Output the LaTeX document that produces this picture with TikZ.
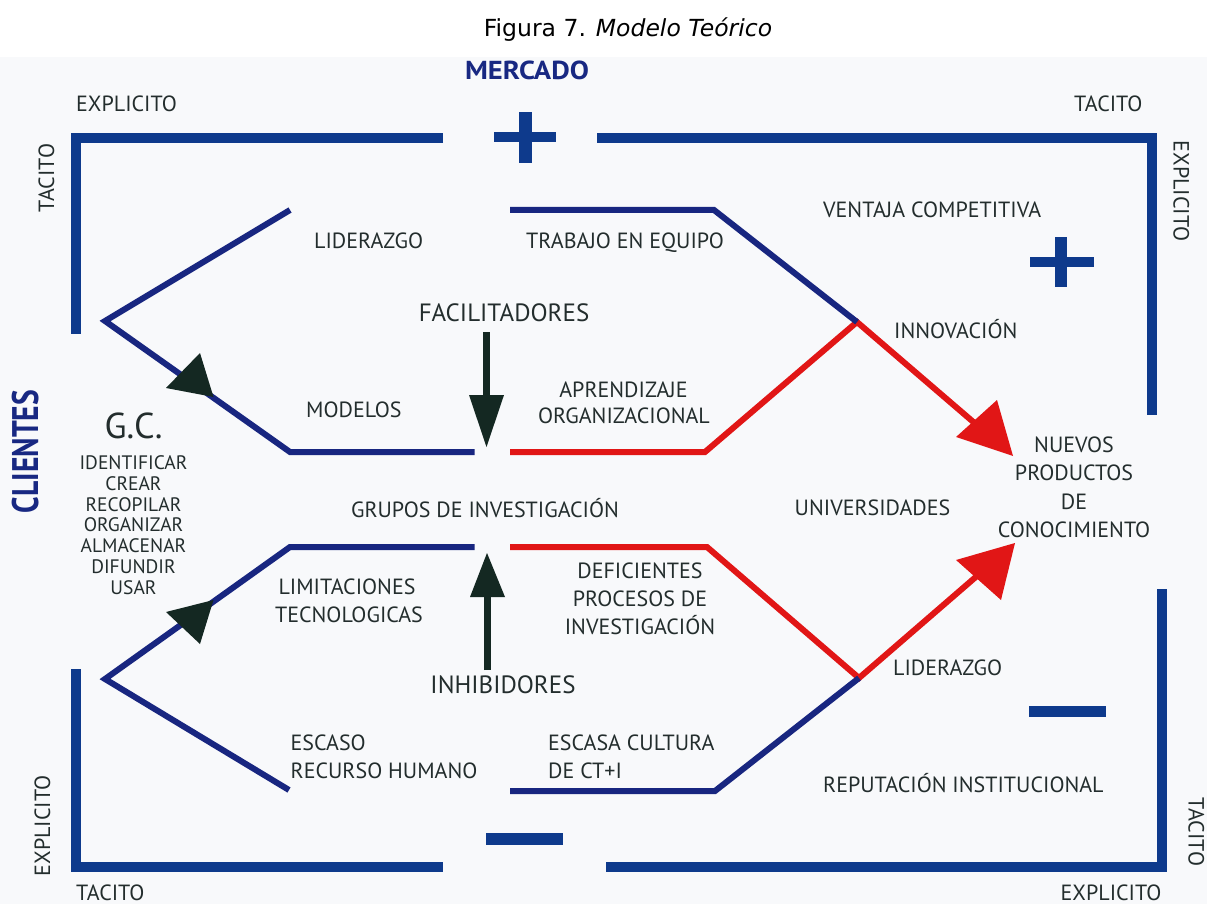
\documentclass[tikz,border=0pt]{standalone}
\usepackage{fontspec}
\setmainfont{PT Sans}
\newfontfamily\titlefont{DejaVu Sans}
\usepackage{graphicx}
\definecolor{brk}{RGB}{14,58,140}
\definecolor{chb}{RGB}{24,38,128}
\definecolor{rd}{RGB}{225,22,22}
\definecolor{dk}{RGB}{20,40,34}
\definecolor{txt}{RGB}{35,45,45}
\definecolor{bgt}{RGB}{248,249,251}
\definecolor{hblue}{RGB}{24,40,130}
\tikzset{
  lbl/.style={text=txt, font=\fontsize{22}{26}\selectfont, inner sep=0pt, anchor=base west},
  lblc/.style={lbl, anchor=base},
  bigl/.style={text=txt, font=\fontsize{25}{30}\selectfont, inner sep=0pt, anchor=base},
  gcl/.style={text=txt, font=\fontsize{19.5}{21}\selectfont, inner sep=0pt, anchor=base},
  bracket/.style={draw=brk, line width=10pt, line join=miter},
  chev/.style={draw=chb, line width=6pt, line join=miter},
  redl/.style={draw=rd, line width=6pt, line join=miter},
  bar/.style={fill=brk},
  headdk/.style={fill=dk},
  headrd/.style={fill=rd},
  shaft/.style={draw=dk, line width=7pt}
}
\begin{document}
\begin{tikzpicture}[x=1pt,y=-1pt]
\useasboundingbox (0,0) rectangle (1207,904);
\fill[white] (0,0) rectangle (1207,904);
\fill[bgt] (0,57) rectangle (1207,904);

% title
\node[font=\titlefont\fontsize{23.5}{27}\selectfont, inner sep=0pt, anchor=base] (title) at (628,36.5) {Figura 7. \textit{Modelo Teórico}};

% coordinates
\coordinate (tlA) at (443,138); \coordinate (tlC) at (75.5,138); \coordinate (tlB) at (75.5,334);
\coordinate (trA) at (597,138); \coordinate (trC) at (1152,138); \coordinate (trB) at (1152,415);
\coordinate (blA) at (75.5,669); \coordinate (blC) at (75.5,867); \coordinate (blB) at (443,867);
\coordinate (brA) at (606,867); \coordinate (brC) at (1162,867); \coordinate (brB) at (1162,589);

% brackets
\draw[bracket] (tlA) -- (tlC) -- (tlB);
\draw[bracket] (trA) -- (trC) -- (trB);
\draw[bracket] (blA) -- (blC) -- (blB);
\draw[bracket] (brA) -- (brC) -- (brB);

% plus / minus signs
\fill[bar] (494,132) rectangle (556,142);
\fill[bar] (519,112) rectangle (532,163);
\fill[bar] (1030,257) rectangle (1094,267);
\fill[bar] (1055,237) rectangle (1067,287);
\fill[bar] (1029,705.5) rectangle (1106,716.5);
\fill[bar] (486,833) rectangle (563,845);

% chevron points
\coordinate (u1) at (290,210); \coordinate (uv) at (105,321); \coordinate (u2) at (290,452); \coordinate (u3) at (474.5,452);
\coordinate (l1) at (474.5,547); \coordinate (l2) at (290,547); \coordinate (lv) at (105,679); \coordinate (l3) at (289,790);
\coordinate (ur1) at (510,210); \coordinate (ur2) at (714,210); \coordinate (rv1) at (857,322);
\coordinate (ur3) at (510,452); \coordinate (ur4) at (705,452); \coordinate (ra1) at (985,432);
\coordinate (lr1) at (510,547); \coordinate (lr2) at (707,547); \coordinate (rv2) at (859,678); \coordinate (ra2) at (985,569);
\coordinate (lr3) at (510,791); \coordinate (lr4) at (715,791);

% left chevrons
\draw[chev] (u1) -- (uv) -- (u2) -- (u3);
\draw[chev] (l1) -- (l2) -- (lv) -- (l3);
\fill[headdk] (213.5,397) -- (166,388) -- (200,353) -- cycle;
\fill[headdk] (213.5,600) -- (166,612) -- (200,644) -- cycle;

% right side
\draw[redl] (ur3) -- (ur4) -- (rv1) -- (ra1);
\draw[chev] (ur1) -- (ur2) -- (rv1);
\fill[headrd] (1013,456) -- (956,437) -- (997,400) -- cycle;
\draw[redl] (lr1) -- (lr2) -- (rv2) -- (ra2);
\draw[chev] (lr3) -- (lr4) -- (rv2);
\fill[headrd] (1015,543) -- (956,560) -- (1001,600) -- cycle;

% facilitadores / inhibidores arrows
\coordinate (fa1) at (486.5,332); \coordinate (fa2) at (486.5,400);
\draw[shaft] (fa1) -- (fa2);
\fill[headdk] (469,395) -- (504,395) -- (486.5,447) -- cycle;
\coordinate (ia1) at (487,670); \coordinate (ia2) at (487,592);
\draw[shaft] (ia1) -- (ia2);
\fill[headdk] (470,597) -- (505,597) -- (487,553) -- cycle;

% corner labels
\node[lbl] (e1) at (76,112) {EXPLICITO};
\node[lbl] (t1) at (1074,112) {TACITO};
\node[lbl, anchor=base, rotate=90] (t2) at (54,178) {TACITO};
\node[lbl, anchor=base, rotate=-90] (e2) at (1173.5,191) {EXPLICITO};
\node[lbl, anchor=base, rotate=90] (e3) at (50,826) {EXPLICITO};
\node[lbl, anchor=base, rotate=-90] (t3) at (1188.5,832) {TACITO};
\node[lbl] (t4) at (76,900) {TACITO};
\node[lblc] (e4) at (1111,900) {EXPLICITO};

% headings
\node[text=hblue, font=\bfseries\fontsize{26}{30}\selectfont, inner sep=0pt, anchor=base] (mer) at (527,80) {\scalebox{1.1}[1]{MERCADO}};
\node[text=hblue, font=\bfseries\fontsize{37}{40}\selectfont, inner sep=0pt, anchor=base, rotate=90] (cli) at (38,451.5) {\scalebox{0.8}[1]{CLIENTES}};
\node[text=txt, font=\fontsize{36}{40}\selectfont, inner sep=0pt, anchor=base] (gc) at (133.5,438) {G.C.};

% GC list
\node[gcl] (g1) at (133.5,469.5) {IDENTIFICAR};
\node[gcl] (g2) at (133.5,490.3) {CREAR};
\node[gcl] (g3) at (133.5,511.1) {RECOPILAR};
\node[gcl] (g4) at (133.5,531.9) {ORGANIZAR};
\node[gcl] (g5) at (133.5,552.7) {ALMACENAR};
\node[gcl] (g6) at (133.5,573.5) {DIFUNDIR};
\node[gcl] (g7) at (133.5,594.3) {USAR};

% inner labels
\node[lbl] (lid1) at (314,248) {LIDERAZGO};
\node[lbl] (tra) at (526,248) {TRABAJO EN EQUIPO};
\node[lbl] (ven) at (823,218) {VENTAJA COMPETITIVA};
\node[bigl] (fac) at (504,321) {FACILITADORES};
\node[lbl] (inn) at (894,338) {INNOVACIÓN};
\node[lbl] (mod) at (306,417) {MODELOS};
\node[lblc] (apr1) at (623.5,397) {APRENDIZAJE};
\node[lblc] (apr2) at (624,423) {ORGANIZACIONAL};
\node[lblc] (nu1) at (1074,452) {NUEVOS};
\node[lblc] (nu2) at (1074,480) {PRODUCTOS};
\node[lblc] (nu3) at (1074,509) {DE};
\node[lblc] (nu4) at (1074,537) {CONOCIMIENTO};
\node[lblc] (gru) at (485,517) {GRUPOS DE INVESTIGACIÓN};
\node[lblc] (uni) at (872.5,515) {UNIVERSIDADES};
\node[lblc] (lim1) at (347,594) {LIMITACIONES};
\node[lblc] (lim2) at (349,622) {TECNOLOGICAS};
\node[lblc] (def1) at (640,578) {DEFICIENTES};
\node[lblc] (def2) at (640,606) {PROCESOS DE};
\node[lblc] (def3) at (640,634) {INVESTIGACIÓN};
\node[bigl] (inh) at (503,693) {INHIBIDORES};
\node[lbl] (lid2) at (893,675) {LIDERAZGO};
\node[lbl] (esc1) at (290.5,750) {ESCASO};
\node[lbl] (esc2) at (290.5,778) {RECURSO HUMANO};
\node[lbl] (esa1) at (548,750) {ESCASA CULTURA};
\node[lbl] (esa2) at (548,778) {DE CT+I};
\node[lbl] (rep) at (823,792) {REPUTACIÓN INSTITUCIONAL};
\end{tikzpicture}
\end{document}
